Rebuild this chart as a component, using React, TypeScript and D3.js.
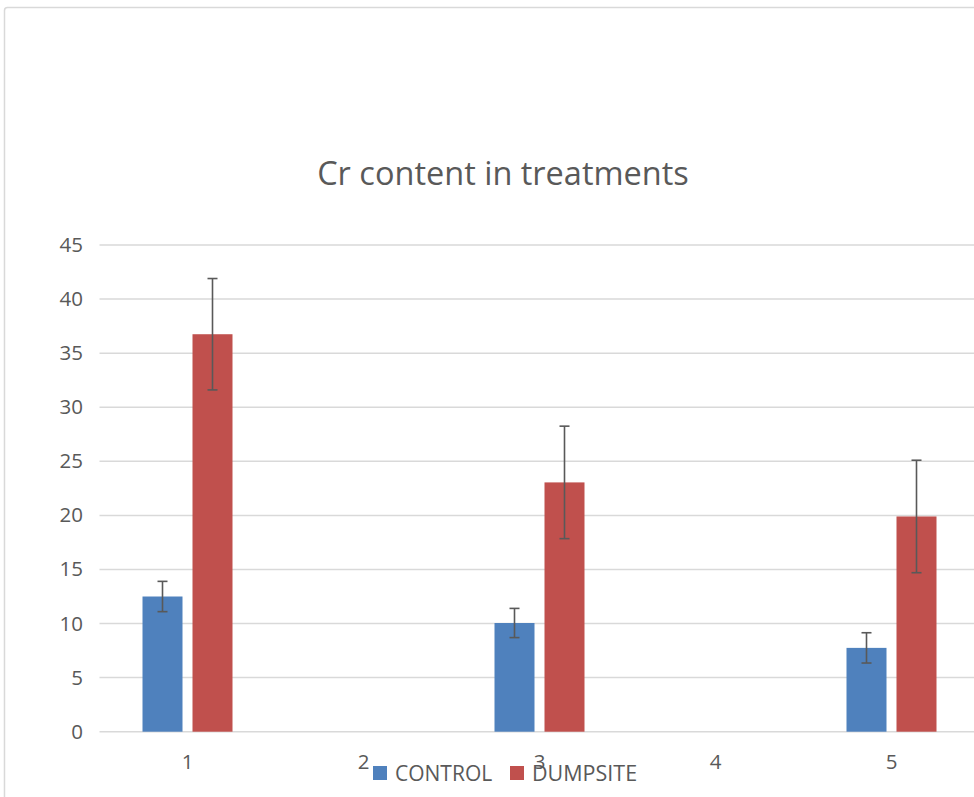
import React from "react";
import * as d3 from "d3";

const categories = ["1", "2", "3", "4", "5"];
const seriesNames = ["CONTROL", "DUMPSITE"];
const controlValues: (number | null)[] = [12.5, null, 10.05, null, 7.75];
const controlErrors: (number | null)[] = [1.4, null, 1.35, null, 1.4];
const dumpsiteValues: (number | null)[] = [36.75, null, 23.05, null, 19.9];
const dumpsiteErrors: (number | null)[] = [5.15, null, 5.2, null, 5.2];
const yTicks = [0, 5, 10, 15, 20, 25, 30, 35, 40, 45];
const colors = ["#4f81bd", "#c0504d"];
const title = "Cr content in treatments";

const W = 974;
const H = 797;
const FONT = "'Open Sans', sans-serif";
const TXT = "#595959";

export default function App() {
  const x = d3.scaleBand<string>().domain(categories).range([99.5, 979.5]);
  const y = d3.scaleLinear().domain([0, 45]).range([731.7, 245]);
  const barW = 40;
  const gap = 10;
  const series = [
    { name: seriesNames[0], values: controlValues, errors: controlErrors, color: colors[0], off: -(gap / 2 + barW) },
    { name: seriesNames[1], values: dumpsiteValues, errors: dumpsiteErrors, color: colors[1], off: gap / 2 },
  ];
  return (
    <svg width={W} height={H} style={{ position: "absolute", left: 0, top: 0, background: "#fff" }}>
      <rect x={4.5} y={7.5} width={1000} height={900} rx={3} fill="#fff" stroke="#d9d9d9" strokeWidth={1.5} />
      <text x={503} y={185} textAnchor="middle" fontFamily={FONT} fontSize={32.5} fill={TXT}>{title}</text>
      {yTicks.map((t) => (
        <g key={t}>
          <line x1={99.5} x2={W} y1={y(t)} y2={y(t)} stroke="#d9d9d9" strokeWidth={1.5} />
          <text x={83} y={y(t) + 7} textAnchor="end" fontFamily={FONT} fontSize={20.5} fill={TXT}>{t}</text>
        </g>
      ))}
      {series.map((s) =>
        categories.map((c, i) => {
          const v = s.values[i];
          if (v == null) return null;
          const cx = (x(c) as number) + x.bandwidth() / 2;
          const bx = cx + s.off;
          const mid = bx + barW / 2;
          const e = s.errors[i] as number;
          return (
            <g key={s.name + c}>
              <rect x={bx} y={y(v)} width={barW} height={y(0) - y(v)} fill={s.color} />
              <line x1={mid} x2={mid} y1={y(v + e)} y2={y(v - e)} stroke="#595959" strokeWidth={1.6} />
              <line x1={mid - 5} x2={mid + 5} y1={y(v + e)} y2={y(v + e)} stroke="#595959" strokeWidth={1.6} />
              <line x1={mid - 5} x2={mid + 5} y1={y(v - e)} y2={y(v - e)} stroke="#595959" strokeWidth={1.6} />
            </g>
          );
        })
      )}
      {categories.map((c) => (
        <text key={c} x={(x(c) as number) + x.bandwidth() / 2} y={769} textAnchor="middle" fontFamily={FONT} fontSize={20.5} fill={TXT}>{c}</text>
      ))}
      <g>
        <rect x={373} y={766} width={14} height={14} fill={colors[0]} />
        <text x={395} y={781} fontFamily={FONT} fontSize={21} fill={TXT}>{seriesNames[0]}</text>
        <rect x={510} y={766} width={14} height={14} fill={colors[1]} />
        <text x={532} y={781} fontFamily={FONT} fontSize={21.5} fill={TXT}>{seriesNames[1]}</text>
      </g>
    </svg>
  );
}
